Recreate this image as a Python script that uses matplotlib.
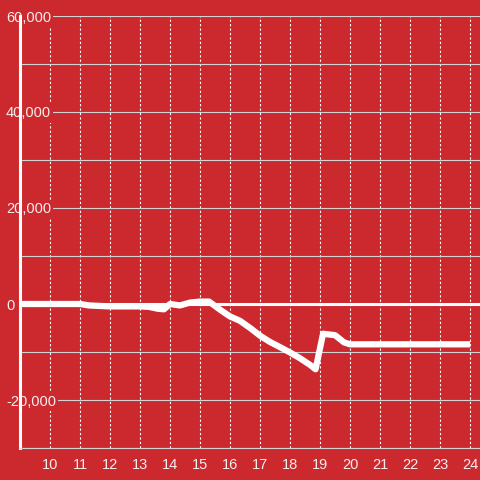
import matplotlib.pyplot as plt
from matplotlib.ticker import FuncFormatter, MultipleLocator

plt.rcParams['font.family'] = ['Liberation Sans', 'DejaVu Sans']

bg = '#cc292e'
fg = '#f4eeee'

hours = [9, 11, 11.3, 12, 13, 13.3, 13.6, 13.8, 14, 14.33, 14.67, 15, 15.3,
         15.67, 16, 16.33, 16.67, 17, 17.33, 17.67, 18, 18.33, 18.67, 18.85,
         19.1, 19.5, 19.8, 20, 24]
values = [0, 0, -300, -500, -500, -600, -1000, -1100, 0, -300, 300, 500, 500,
          -1200, -2600, -3500, -5000, -6600, -7900, -9000, -10100, -11300,
          -12700, -13600, -6200, -6500, -8000, -8400, -8400]

fig = plt.figure(figsize=(4.8, 4.8), dpi=100, facecolor=bg)
ax = fig.add_axes([20 / 480, 32 / 480, 460 / 480, 432 / 480])
ax.set_facecolor(bg)

ax.plot(hours, values, color='white', lw=4.5, solid_joinstyle='round',
        solid_capstyle='butt', zorder=2)
ax.axhline(0, color='white', lw=2.2, zorder=1.6)

ax.set_xlim(9, 24.33)
ax.set_ylim(-30000, 60000)

ax.xaxis.set_major_locator(MultipleLocator(1))
ax.xaxis.set_major_formatter(FuncFormatter(lambda v, p: f'{int(v)}' if 10 <= v <= 24 else ''))
ax.yaxis.set_major_locator(MultipleLocator(20000))
ax.yaxis.set_minor_locator(MultipleLocator(10000))
ax.yaxis.set_major_formatter(FuncFormatter(lambda v, p: f'{int(v):,}'))

ax.grid(axis='x', which='major', color='white', ls=(0, (2, 2)), lw=0.8)
ax.grid(axis='y', which='both', color='#d3d3d3', lw=0.8)
ax.set_axisbelow(True)

ax.tick_params(axis='x', length=0, pad=7, labelsize=10.5, labelcolor=fg)
ax.tick_params(axis='y', which='both', length=0)
ax.tick_params(axis='y', pad=10, labelsize=10.5, labelcolor=fg)
for lab in ax.get_yticklabels():
    lab.set_horizontalalignment('left')
    lab.set_bbox(dict(facecolor=bg, edgecolor='none', pad=1.5))
    lab.set_zorder(3)

for s in ['top', 'right']:
    ax.spines[s].set_visible(False)
ax.spines['left'].set_color('white')
ax.spines['left'].set_linewidth(2.2)
ax.spines['left'].set_zorder(1)
ax.spines['bottom'].set_color('#d3d3d3')
ax.spines['bottom'].set_linewidth(0.8)

fig.savefig('out.png', dpi=100, facecolor=bg)
